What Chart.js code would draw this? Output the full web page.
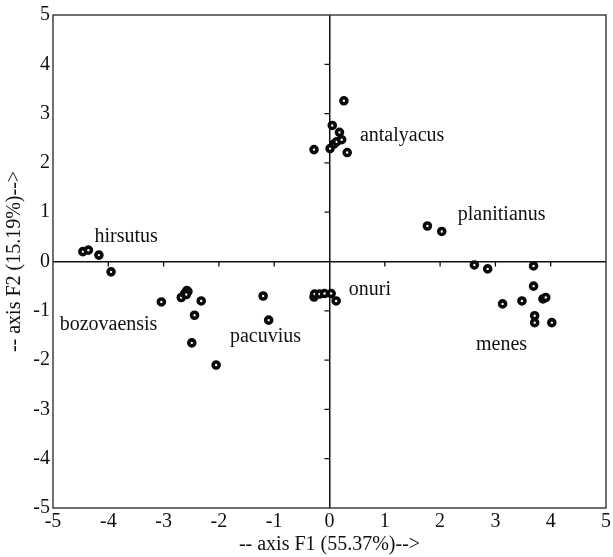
<!DOCTYPE html>
<html>
<head>
<meta charset="utf-8">
<script src="https://cdn.jsdelivr.net/npm/chart.js@4.4.1/dist/chart.umd.min.js"></script>
<style>
  html, body { margin: 0; padding: 0; background: #fff; }
  #wrap { width: 613px; height: 557px; position: relative; }
</style>
</head>
<body>
<div id="wrap"><canvas id="chartCanvas"></canvas></div>
<script>
// axis F1 / axis F2 scores per group
const hirsutus = [[-4.46, 0.20], [-4.36, 0.23], [-4.17, 0.13], [-3.95, -0.21]];
const bozovaensis = [[-3.04, -0.82], [-2.68, -0.73], [-2.62, -0.65], [-2.58, -0.59], [-2.56, -0.61],
  [-2.59, -0.67], [-2.32, -0.80], [-2.44, -1.09], [-2.49, -1.65], [-2.05, -2.10]];
const pacuvius = [[-1.20, -0.70], [-1.10, -1.19]];
const onuri = [[-0.28, -0.72], [-0.27, -0.66], [-0.18, -0.66], [-0.09, -0.65], [0.03, -0.65], [0.12, -0.80]];
const antalyacus = [[-0.28, 2.27], [0.01, 2.29], [0.05, 2.76], [0.08, 2.38], [0.13, 2.43],
  [0.18, 2.62], [0.22, 2.47], [0.26, 3.26], [0.32, 2.21]];
const planitianus = [[1.77, 0.72], [2.03, 0.61]];
const menes = [[2.62, -0.07], [2.86, -0.15], [3.69, -0.09], [3.69, -0.50], [3.13, -0.86], [3.48, -0.80],
  [3.86, -0.76], [3.91, -0.73], [3.71, -1.10], [3.71, -1.24], [4.02, -1.24]];

const groupNames = ["hirsutus", "bozovaensis", "pacuvius", "onuri", "antalyacus", "planitianus", "menes"];
const groupPoints = [hirsutus, bozovaensis, pacuvius, onuri, antalyacus, planitianus, menes];
// where each group name is written (left edge, middle of text)
const labelX = [-4.25, -4.88, -1.80, 0.35, 0.55, 2.32, 2.65];
const labelY = [0.50, -1.29, -1.53, -0.58, 2.56, 0.94, -1.69];

const axisMin = -5, axisMax = 5;
const xTitle = "-- axis F1 (55.37%)-->";
const yTitle = "-- axis F2 (15.19%)-->";

const serif = "'Liberation Serif', 'Times New Roman', serif";

// frame, small ticks along the zero lines and group names
const decoPlugin = {
  id: 'deco',
  beforeDatasetsDraw(chart) {
    const {ctx, chartArea: a, scales: {x, y}} = chart;
    const x0 = x.getPixelForValue(0), y0 = y.getPixelForValue(0);
    ctx.save();
    ctx.strokeStyle = '#111';
    ctx.lineWidth = 1.3;
    ctx.beginPath();
    for (let v = axisMin + 1; v < axisMax; v++) {
      if (v === 0) continue;
      const px = x.getPixelForValue(v);
      ctx.moveTo(px, y0); ctx.lineTo(px, y0 + 5);
      const py = y.getPixelForValue(v);
      ctx.moveTo(x0, py); ctx.lineTo(x0 - 5, py);
    }
    ctx.stroke();
    ctx.strokeStyle = '#333';
    ctx.lineWidth = 1.4;
    ctx.strokeRect(a.left, a.top, a.right - a.left, a.bottom - a.top);
    ctx.restore();
  },
  afterDatasetsDraw(chart) {
    const {ctx, scales: {x, y}} = chart;
    ctx.save();
    ctx.fillStyle = '#111';
    ctx.font = '20px ' + serif;
    ctx.textAlign = 'left';
    ctx.textBaseline = 'middle';
    groupNames.forEach((n, i) => {
      ctx.fillText(n, x.getPixelForValue(labelX[i]), y.getPixelForValue(labelY[i]));
    });
    ctx.restore();
  }
};

const zeroLine = c => (c.tick && c.tick.value === 0) ? '#111' : 'rgba(0,0,0,0)';

new Chart(document.getElementById('chartCanvas'), {
  type: 'scatter',
  data: {
    datasets: groupPoints.map((pts, i) => ({
      label: groupNames[i],
      data: pts.map(p => ({x: p[0], y: p[1]})),
      pointStyle: 'circle',
      pointRadius: 3,
      pointBorderWidth: 3.6,
      pointBorderColor: '#0a0a0a',
      pointBackgroundColor: '#fff',
      pointHoverRadius: 3
    }))
  },
  options: {
    responsive: true,
    maintainAspectRatio: false,
    animation: false,
    events: [],
    layout: { padding: { top: 15, right: 3, left: 0, bottom: 0 } },
    plugins: { legend: { display: false }, tooltip: { enabled: false } },
    scales: {
      x: {
        type: 'linear', min: axisMin, max: axisMax,
        afterFit: s => { s.height = 49; },
        border: { display: false },
        grid: { drawTicks: false, color: zeroLine, lineWidth: 1.5 },
        ticks: { stepSize: 1, padding: 2, color: '#111', font: { family: serif, size: 20 }, maxRotation: 0 },
        title: { display: true, text: xTitle, color: '#111', font: { family: serif, size: 20 }, padding: 0 }
      },
      y: {
        type: 'linear', min: axisMin, max: axisMax,
        afterFit: s => { s.width = 53; },
        border: { display: false },
        grid: { drawTicks: false, color: zeroLine, lineWidth: 1.5 },
        ticks: { stepSize: 1, padding: 3, color: '#111', font: { family: serif, size: 20 } },
        title: { display: true, text: yTitle, color: '#111', font: { family: serif, size: 20 }, padding: { top: 3, bottom: 0 } }
      }
    }
  },
  plugins: [decoPlugin]
});
</script>
</body>
</html>
